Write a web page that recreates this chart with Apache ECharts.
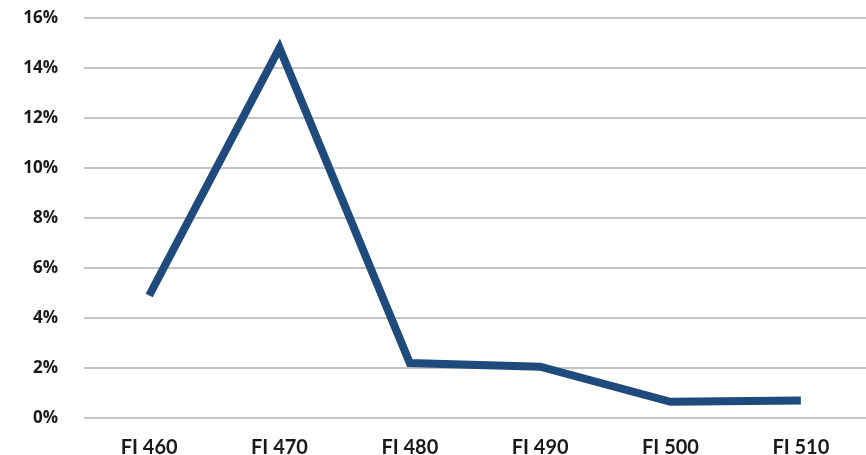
<!DOCTYPE html>
<html>
<head>
<meta charset="utf-8">
<script src="https://cdn.jsdelivr.net/npm/echarts@6/dist/echarts.min.js"></script>
<style>
  html, body { margin: 0; padding: 0; background: #ffffff; }
  #chart { width: 866px; height: 455px; }
</style>
</head>
<body>
<div id="chart"></div>
<script>
// Fiscal-year categories and the share (%) for each
const categories = ['FI 460', 'FI 470', 'FI 480', 'FI 490', 'FI 500', 'FI 510'];
const shareValues = [4.9, 14.8, 2.2, 2.05, 0.65, 0.7];
const yTicks = [0, 2, 4, 6, 8, 10, 12, 14, 16];

const chart = echarts.init(document.getElementById('chart'), null, { renderer: 'canvas' });

chart.setOption({
  animation: false,
  backgroundColor: '#ffffff',
  grid: {
    left: 84, right: 0, top: 18, bottom: 37,
    containLabel: false,
    outerBoundsMode: 'none'
  },
  xAxis: {
    type: 'category',
    data: categories,
    boundaryGap: true,
    axisLine: { show: false },
    axisTick: { show: false },
    axisLabel: {
      margin: 20,
      color: '#1a1a1a',
      fontFamily: 'Lato',
      fontWeight: 'bold',
      fontSize: 20
    }
  },
  yAxis: {
    type: 'value',
    min: yTicks[0],
    max: yTicks[yTicks.length - 1],
    interval: 2,
    axisLine: { show: false },
    axisTick: { show: false },
    splitLine: { lineStyle: { color: '#c4c4c4', width: 2 } },
    axisLabel: {
      margin: 26,
      color: '#1a1a1a',
      fontFamily: 'Open Sans',
      fontWeight: 'bold',
      fontSize: 17,
      formatter: v => v + '%'
    }
  },
  series: [{
    type: 'line',
    data: shareValues,
    symbol: 'none',
    lineStyle: { color: '#1f4a7c', width: 8, cap: 'butt', join: 'miter' }
  }]
});
</script>
</body>
</html>
